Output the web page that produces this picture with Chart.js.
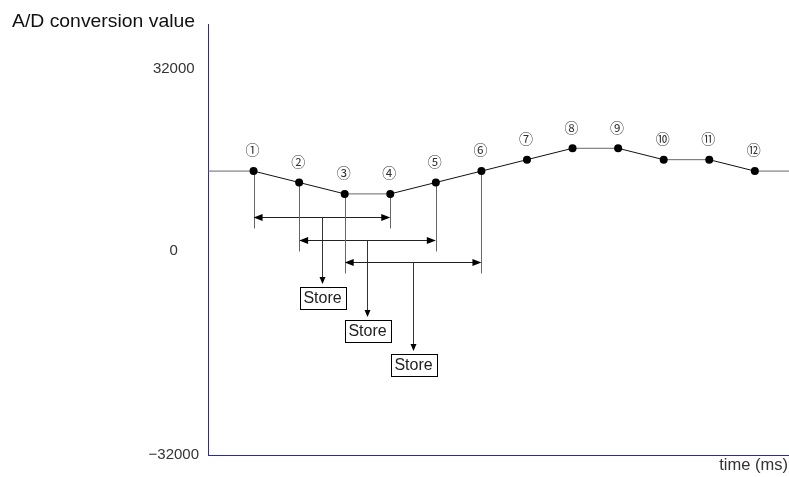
<!DOCTYPE html>
<html>
<head>
<meta charset="utf-8">
<script src="https://cdn.jsdelivr.net/npm/chart.js@4.4.1/dist/chart.umd.min.js"></script>
<style>
  html, body { margin: 0; padding: 0; background: #fff; }
  #wrap { width: 789px; height: 477px; }
</style>
</head>
<body>
<div id="wrap"><canvas id="chart" width="789" height="477"></canvas></div>
<script>
// Sample instants (ms, schematic) and the A/D values read at each one
const sampleTimes = [1, 2, 3, 4, 5, 6, 7, 8, 9, 10, 11, 12];
const sampleValues = [14000, 12000, 10000, 10000, 12000, 14000, 16000, 18000, 18000, 16000, 16000, 14000];
const sampleLabels = ['①', '②', '③', '④', '⑤', '⑥', '⑦', '⑧', '⑨', '⑩', '⑪', '⑫'];

// Time range shown on the axis (value is held before the 1st and after the last sample)
const timeStart = 0;
const timeEnd = 12.75;

// Averaging windows: first and last sample of each stored average
const storeWindows = [[1, 4], [2, 5], [3, 6]];
const storeText = 'Store';

// Y axis
const yMin = -35800;
const yMax = 39800;
const yTickValues = [32000, 0, yMin];
const yTickLabels = ['32000', '0', '\u221232000'];

const axisTitle = 'A/D conversion value';
const timeTitle = 'time (ms)';

const axisColor = '#2b2b9a';
const font = '"Liberation Sans", Arial, sans-serif';

// line points, including the held value at both edges
const linePoints = [{ x: timeStart, y: sampleValues[0] }]
  .concat(sampleTimes.map((t, i) => ({ x: t, y: sampleValues[i] })))
  .concat([{ x: timeEnd, y: sampleValues[sampleValues.length - 1] }]);

function crisp(v) { return Math.round(v) + 0.5; }

// drop lines, arrows and Store boxes
const storeDiagram = {
  id: 'storeDiagram',
  beforeDatasetsDraw(chart) {
    const { ctx, scales: { x, y } } = chart;
    const zero = y.getPixelForValue(0);
    ctx.save();
    ctx.lineWidth = 1;
    storeWindows.forEach((w, k) => {
      const rowY = crisp(zero - 34 + k * 22.7);
      const xa = x.getPixelForValue(w[0]);
      const xb = x.getPixelForValue(w[1]);
      const mid = crisp((xa + xb) / 2);

      // drop lines from the two window samples
      ctx.strokeStyle = '#666';
      [w[0], w[1]].forEach(s => {
        const px = crisp(x.getPixelForValue(s));
        const py = y.getPixelForValue(sampleValues[sampleTimes.indexOf(s)]);
        ctx.beginPath();
        ctx.moveTo(px, py);
        ctx.lineTo(px, rowY + 11);
        ctx.stroke();
      });

      // double headed arrow
      ctx.strokeStyle = '#222';
      ctx.fillStyle = '#000';
      ctx.beginPath();
      ctx.moveTo(xa + 4, rowY);
      ctx.lineTo(xb - 4, rowY);
      ctx.stroke();
      ctx.beginPath();
      ctx.moveTo(xa, rowY);
      ctx.lineTo(xa + 9, rowY - 3.5);
      ctx.lineTo(xa + 9, rowY + 3.5);
      ctx.closePath();
      ctx.fill();
      ctx.beginPath();
      ctx.moveTo(xb, rowY);
      ctx.lineTo(xb - 9, rowY - 3.5);
      ctx.lineTo(xb - 9, rowY + 3.5);
      ctx.closePath();
      ctx.fill();

      // arrow down to the Store box
      const boxTop = Math.round(zero + 35.7 + k * 33.7);
      const tip = boxTop - 3;
      ctx.strokeStyle = '#333';
      ctx.beginPath();
      ctx.moveTo(mid, rowY);
      ctx.lineTo(mid, tip - 5);
      ctx.stroke();
      ctx.beginPath();
      ctx.moveTo(mid, tip);
      ctx.lineTo(mid - 3, tip - 7);
      ctx.lineTo(mid + 3, tip - 7);
      ctx.closePath();
      ctx.fill();

      // box
      const bw = 46, bh = 22;
      ctx.strokeStyle = '#000';
      ctx.strokeRect(Math.round(mid - bw / 2) + 0.5, boxTop + 0.5, bw, bh);
      ctx.fillStyle = '#222';
      ctx.font = '16px ' + font;
      ctx.textAlign = 'center';
      ctx.textBaseline = 'middle';
      ctx.fillText(storeText, mid, boxTop + bh / 2 + 1);
    });
    ctx.restore();
  },
  afterDatasetsDraw(chart) {
    const { ctx, scales: { x, y } } = chart;
    ctx.save();
    // circled sample numbers
    ctx.fillStyle = '#333';
    ctx.font = '14px "Noto Sans CJK KR", "DejaVu Sans", sans-serif';
    ctx.textAlign = 'center';
    ctx.textBaseline = 'middle';
    sampleTimes.forEach((t, i) => {
      ctx.fillText(sampleLabels[i], x.getPixelForValue(t) - 1, y.getPixelForValue(sampleValues[i]) - 21);
    });
    ctx.restore();
  },
  afterDraw(chart) {
    const { ctx, chartArea } = chart;
    ctx.save();
    ctx.fillStyle = '#111';
    ctx.font = '19px ' + font;
    ctx.textAlign = 'left';
    ctx.textBaseline = 'alphabetic';
    const w = ctx.measureText(axisTitle).width;
    ctx.translate(12, 27);
    ctx.scale(183 / w, 1);
    ctx.fillText(axisTitle, 0, 0);
    ctx.restore();

    ctx.save();
    ctx.fillStyle = '#333';
    ctx.font = '16.5px ' + font;
    ctx.textAlign = 'right';
    ctx.textBaseline = 'alphabetic';
    ctx.fillText(timeTitle, chartArea.right - 1, 470);
    ctx.restore();
  }
};

new Chart(document.getElementById('chart'), {
  type: 'line',
  data: {
    datasets: [{
      data: linePoints,
      borderColor: '#111',
      borderWidth: 1,
      pointRadius: ctx => (ctx.dataIndex === 0 || ctx.dataIndex === linePoints.length - 1) ? 0 : 4,
      pointBackgroundColor: '#000',
      pointBorderWidth: 0,
      tension: 0,
      segment: {
        borderColor: ctx => ctx.p0.parsed.y === ctx.p1.parsed.y ? '#666' : '#111'
      }
    }]
  },
  options: {
    responsive: false,
    animation: false,
    devicePixelRatio: 1,
    layout: { padding: { top: 24, left: 0, right: 0, bottom: 0 } },
    plugins: { legend: { display: false }, tooltip: { enabled: false } },
    scales: {
      x: {
        type: 'linear',
        min: timeStart,
        max: timeEnd,
        grid: { display: false, drawTicks: false },
        ticks: { display: false },
        border: { display: true, color: axisColor, width: 1 },
        afterFit: s => { s.height = 22; }
      },
      y: {
        min: yMin,
        max: yMax,
        grid: { display: false, drawTicks: false },
        border: { display: true, color: axisColor, width: 1 },
        afterBuildTicks: s => { s.ticks = yTickValues.map(v => ({ value: v })); },
        ticks: {
          crossAlign: 'center',
          padding: 9,
          color: '#333',
          font: { family: font, size: 15 },
          callback: v => yTickLabels[yTickValues.indexOf(v)]
        },
        afterFit: s => { s.width = 208; }
      }
    }
  },
  plugins: [storeDiagram]
});
</script>
</body>
</html>
